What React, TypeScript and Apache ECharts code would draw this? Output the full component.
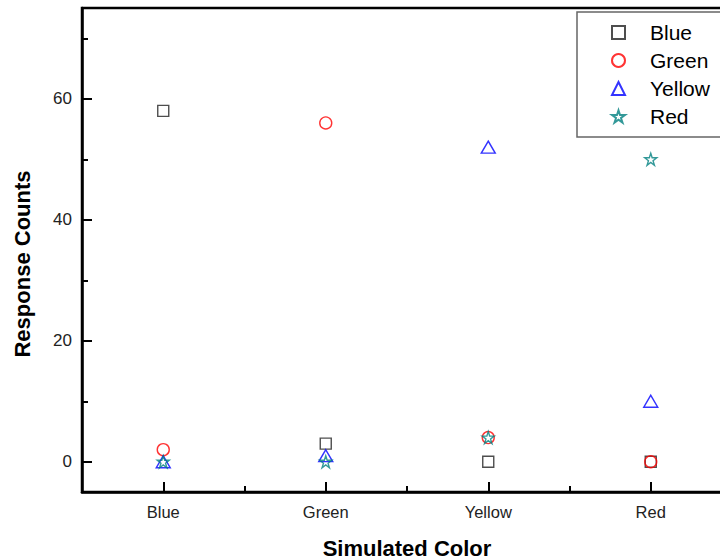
import React, { useEffect, useRef } from "react";
import * as echarts from "echarts";

const categories = ["Blue", "Green", "Yellow", "Red"];
const seriesNames = ["Blue", "Green", "Yellow", "Red"];
const blueCounts = [58, 3, 0, 0];
const greenCounts = [2, 56, 4, 0];
const yellowCounts = [0, 1, 52, 10];
const redCounts = [0, 0, 4, 50];
const yLabelValues = [0, 20, 40, 60];

const STAR =
  "path://M50,2 L61.2,36.3 L97.6,36.3 L68.2,57.7 L79.4,92.2 L50,70.9 L20.6,92.2 L31.8,57.7 L2.4,36.3 L38.8,36.3 Z";

const FONT = "Arial, 'Liberation Sans', sans-serif";

export default function App() {
  const ref = useRef<HTMLDivElement>(null);

  useEffect(() => {
    document.body.style.margin = "0";
    if (!ref.current) return;
    const chart = echarts.init(ref.current, undefined, { renderer: "svg" });

    const mk = (
      name: string,
      values: number[],
      symbol: string,
      size: number | number[],
      color: string
    ) => ({
      type: "scatter",
      name,
      data: categories.map((c, i) => [c, values[i]]),
      symbol,
      symbolSize: size,
      xAxisIndex: 0,
      yAxisIndex: 0,
      itemStyle: { color: "transparent", borderColor: color, borderWidth: 1.4 },
      emphasis: { disabled: true },
    });

    chart.setOption({
      animation: false,
      backgroundColor: "#fff",
      grid: {
        left: 82,
        top: 8,
        width: 650,
        height: 484,
        outerBoundsMode: "none",
        containLabel: false,
        show: true,
        borderColor: "#000",
        borderWidth: 2.5,
        backgroundColor: "transparent",
      },
      legend: {
        orient: "vertical",
        left: 577,
        top: 12,
        padding: [10, 30, 10, 34],
        itemGap: 7,
        itemWidth: 13,
        itemHeight: 13,
        borderColor: "#666",
        borderWidth: 1.5,
        backgroundColor: "#fff",
        data: seriesNames,
        textStyle: {
          fontSize: 21,
          fontFamily: FONT,
          color: "#000",
          lineHeight: 21,
          padding: [0, 0, 0, 20],
        },
      },
      xAxis: [
        {
          type: "category",
          data: categories,
          position: "bottom",
          boundaryGap: true,
          axisLine: { show: true, onZero: false, lineStyle: { color: "#000", width: 2.5 } },
          axisTick: {
            show: true,
            inside: true,
            alignWithLabel: true,
            length: 10,
            lineStyle: { color: "#000", width: 2 },
          },
          axisLabel: {
            fontSize: 16.5,
            fontFamily: FONT,
            color: "#222",
            margin: 11,
          },
          splitLine: { show: false },
          name: "Simulated Color",
          nameLocation: "middle",
          nameGap: 45,
          nameTextStyle: {
            fontSize: 22,
            fontWeight: "bold",
            fontFamily: FONT,
            color: "#000",
          },
        },
        {
          type: "category",
          data: categories,
          position: "bottom",
          boundaryGap: true,
          axisLine: { show: false, onZero: false },
          axisTick: {
            show: true,
            inside: true,
            alignWithLabel: false,
            length: 6,
            lineStyle: { color: "#000", width: 2 },
          },
          axisLabel: { show: false },
          splitLine: { show: false },
        },
      ],
      yAxis: [
        {
          type: "value",
          min: -5,
          max: 75,
          splitNumber: 4,
          axisLine: { show: true, onZero: false, lineStyle: { color: "#000", width: 2.5 } },
          axisTick: {
            show: true,
            inside: true,
            length: 10,
            lineStyle: { color: "#000", width: 2 },
          },
          minorTick: {
            show: true,
            splitNumber: 2,
            length: 6,
            lineStyle: { color: "#000", width: 2 },
          },
          splitLine: { show: false },
          minorSplitLine: { show: false },
          axisLabel: {
            fontSize: 17,
            fontFamily: FONT,
            color: "#222",
            margin: 10,
            formatter: (v: number) => (yLabelValues.includes(v) ? String(v) : ""),
          },
          name: "Response Counts",
          nameLocation: "middle",
          nameGap: 49,
          nameTextStyle: {
            fontSize: 22,
            fontWeight: "bold",
            fontFamily: FONT,
            color: "#000",
            padding: [0, 28, 0, 0],
          },
        },
      ],
      series: [
        mk("Blue", blueCounts, "rect", 11, "#222"),
        mk("Green", greenCounts, "circle", 12, "#ff0000"),
        mk("Yellow", yellowCounts, "triangle", [14, 12], "#0000ff"),
        mk("Red", redCounts, STAR, 12, "#008080"),
      ],
    });

    return () => chart.dispose();
  }, []);

  return (
    <div
      ref={ref}
      style={{ position: "absolute", left: 0, top: 0, width: 720, height: 560 }}
    />
  );
}
